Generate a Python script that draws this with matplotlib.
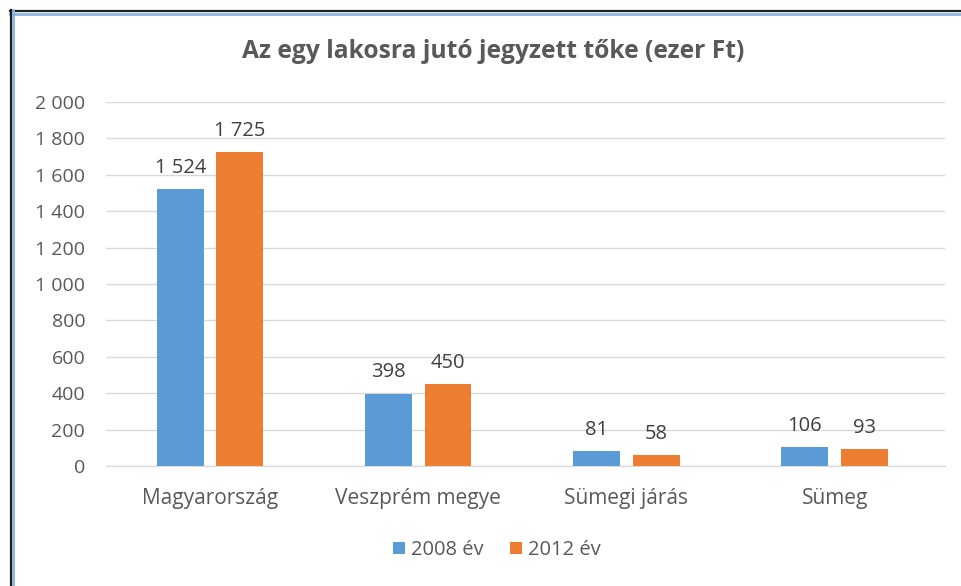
import matplotlib
matplotlib.use("Agg")
import matplotlib.pyplot as plt
import numpy as np
from matplotlib.lines import Line2D

categories = ["Magyarország", "Veszprém megye", "Sümegi járás", "Sümeg"]
series_names = ["2008 év", "2012 év"]
values_2008 = [1524, 398, 81, 106]
values_2012 = [1725, 450, 58, 93]
y_ticks = [0, 200, 400, 600, 800, 1000, 1200, 1400, 1600, 1800, 2000]

BLUE = "#5B9BD5"
ORANGE = "#ED7D31"
GRAY = "#595959"

plt.rcParams["font.family"] = ["Open Sans", "DejaVu Sans"]


def fmt(v):
    return f"{v:,}".replace(",", " ")


fig = plt.figure(figsize=(9.61, 5.86), dpi=100)
ax = fig.add_axes([106 / 961, 1 - 466 / 586, (945 - 106) / 961, (466 - 102) / 586])

x = np.arange(len(categories))
w = 0.225
off = 0.143
b1 = ax.bar(x - off, values_2008, w, color=BLUE, label=series_names[0], zorder=3)
b2 = ax.bar(x + off, values_2012, w, color=ORANGE, label=series_names[1], zorder=3)

for bars, vals in ((b1, values_2008), (b2, values_2012)):
    ax.bar_label(bars, labels=[fmt(v) for v in vals], padding=8,
                 fontsize=14.5, color="#404040")

ax.set_xlim(-0.5, 3.53)
ax.set_ylim(0, 2000)
ax.set_yticks(y_ticks)
ax.set_yticklabels([fmt(v) for v in y_ticks], fontsize=14, color=GRAY)
ax.set_xticks(x)
ax.set_xticklabels(categories, fontsize=15, color=GRAY)
ax.tick_params(axis="y", length=0, pad=15)
ax.tick_params(axis="x", length=0, pad=16)
ax.grid(axis="y", color="#D9D9D9", linewidth=1, zorder=0)
for s in ("top", "right", "left"):
    ax.spines[s].set_visible(False)
ax.spines["bottom"].set_color("#D9D9D9")
ax.spines["bottom"].set_zorder(4)

fig.text(493 / 961, 1 - 51 / 586, "Az egy lakosra jutó jegyzett tőke (ezer Ft)",
         ha="center", va="center", fontsize=17.7, fontweight="bold", color=GRAY)

fig.legend(handles=[b1, b2], loc="center", bbox_to_anchor=(497 / 961, 1 - 550 / 586),
           ncol=2, frameon=False, fontsize=14.5, labelcolor=GRAY,
           handlelength=0.6, handleheight=0.6, handletextpad=0.3, columnspacing=1.3)

# chart frame (dark outer line + light blue inner line)
def hline(y, color, lw):
    fig.add_artist(Line2D([10 / 961, 1], [1 - y / 586] * 2, color=color, lw=lw))


def vline(xp, color, lw):
    fig.add_artist(Line2D([xp / 961] * 2, [0, 1 - 10 / 586], color=color, lw=lw))


hline(11, "#1F1F1F", 1.6)
hline(13.5, "#8DB4E2", 2)
vline(10.5, "#1F1F1F", 1.6)
vline(13, "#8DB4E2", 2)

fig.savefig("out.png", dpi=100)
